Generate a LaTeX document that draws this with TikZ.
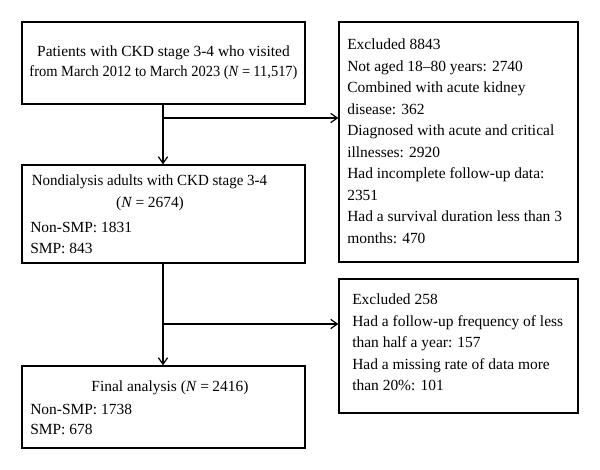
\documentclass[tikz,border=0pt]{standalone}
\usepackage{fontspec}
\usepackage{graphicx}
\setmainfont{Liberation Serif}
\usetikzlibrary{arrows.meta}
\newcommand{\Nq}[1]{\textit{N}\hspace{0.22em}=\hspace{0.22em}#1}
\begin{document}
\begin{tikzpicture}[x=0.75pt,y=-0.75pt,
  boxnode/.style={draw=black, line width=1pt, rectangle, inner sep=0pt, fill=none},
  txtc/.style={inner sep=0pt, anchor=base, font=\fontsize{11.6pt}{16pt}\selectfont},
  txtl/.style={inner sep=0pt, anchor=base west, font=\fontsize{11.6pt}{16pt}\selectfont},
  conn/.style={line width=0.9pt, draw=black},
  arr/.style={conn, -{Straight Barb[length=5pt,width=7pt,line width=0.9pt]}}]
\useasboundingbox (0,0) rectangle (600,470);
\fill[white] (0,0) rectangle (600,470);
% boxes
\node[boxnode, minimum width=212.25pt, minimum height=61.5pt] (b1) at (163.5,63) {};
\node[boxnode, minimum width=212.25pt, minimum height=73.5pt] (b2) at (163.5,214) {};
\node[boxnode, minimum width=212.25pt, minimum height=61.5pt] (b3) at (163.5,407) {};
\node[boxnode, minimum width=179.25pt, minimum height=180pt] (e1) at (458.5,142) {};
\node[boxnode, minimum width=179.25pt, minimum height=100.5pt] (e2) at (458.5,346) {};
% box 1 text
\node[txtc] (t1a) at (163.5,57) {Patients with CKD stage 3-4 who visited};
\node[txtc] (t1b) at (163.5,77) {\scalebox{0.935}[1]{from March 2012 to March 2023 (\Nq{11,517})}};
% box 2 text
\node[txtc] (t2a) at (149.5,186) {\scalebox{0.97}[1]{Nondialysis adults with CKD stage 3-4}};
\node[txtc] (t2b) at (150,208) {(\Nq{2674})};
\node[txtl] (t2c) at (30,233) {Non-SMP: 1831};
\node[txtl] (t2d) at (30,254) {SMP: 843};
% box 3 text
\node[txtc] (t3a) at (170,392) {Final analysis (\Nq{2416})};
\node[txtl] (t3b) at (30,414) {Non-SMP: 1738};
\node[txtl] (t3c) at (30,434) {SMP: 678};
% excluded 1 text
\node[txtl] (x1a) at (347,50) {Excluded 8843};
\node[txtl] (x1b) at (347,71.5) {Not aged 18–80 years: 2740};
\node[txtl] (x1c) at (347,93) {Combined with acute kidney};
\node[txtl] (x1d) at (347,114.5) {disease: 362};
\node[txtl] (x1e) at (347,136) {Diagnosed with acute and critical};
\node[txtl] (x1f) at (347,157.5) {illnesses: 2920};
\node[txtl] (x1g) at (347,179) {Had incomplete follow-up data:};
\node[txtl] (x1h) at (347,200.5) {2351};
\node[txtl] (x1i) at (347,222) {Had a survival duration less than 3};
\node[txtl] (x1j) at (347,243.5) {months: 470};
% excluded 2 text
\node[txtl] (x2a) at (352,305) {Excluded 258};
\node[txtl] (x2b) at (352,327) {Had a follow-up frequency of less};
\node[txtl] (x2c) at (352,348) {than half a year: 157};
\node[txtl] (x2d) at (352,369) {Had a missing rate of data more};
\node[txtl] (x2e) at (352,390) {than 20\%: 101};
% connectors
\coordinate (j1) at (163,118);
\coordinate (j2) at (163,324);
\draw[arr] (b1.south -| j1) -- (b2.north -| j1);
\draw[arr] (j1) -- (j1 -| e1.west);
\draw[arr] (b2.south -| j2) -- (b3.north -| j2);
\draw[arr] (j2) -- (j2 -| e2.west);
\end{tikzpicture}
\end{document}
